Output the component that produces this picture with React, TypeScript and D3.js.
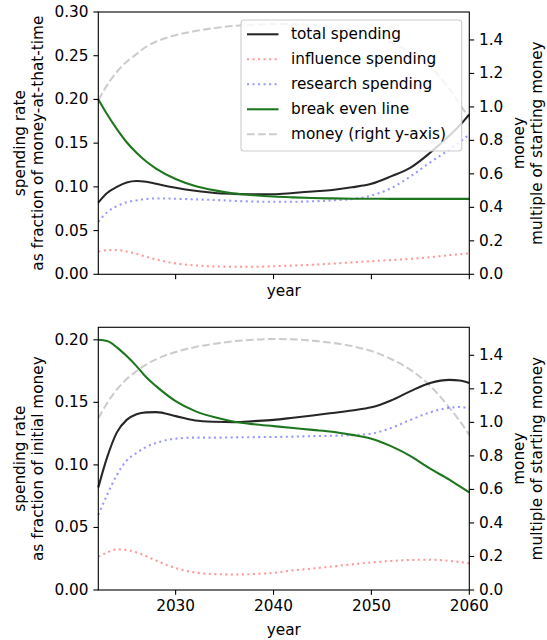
import React from 'react';
import * as d3 from 'd3';

// sample years shared by every series
const years = [2022.1, 2023, 2024, 2025, 2026, 2027, 2028, 2030, 2032, 2034, 2036, 2038, 2040, 2042, 2044, 2046, 2048, 2050, 2052, 2054, 2056, 2058, 2059, 2060];

// top panel: fraction of money-at-that-time
const topTotal = [0.082, 0.093, 0.100, 0.105, 0.1067, 0.1058, 0.1035, 0.099, 0.0955, 0.093, 0.092, 0.0915, 0.0915, 0.093, 0.0948, 0.0965, 0.0995, 0.1035, 0.112, 0.122, 0.139, 0.159, 0.170, 0.183];
const topInfluence = [0.026, 0.0275, 0.0278, 0.026, 0.0235, 0.020, 0.017, 0.0125, 0.0102, 0.009, 0.0087, 0.0087, 0.0092, 0.010, 0.011, 0.0122, 0.0136, 0.015, 0.0163, 0.0177, 0.0195, 0.022, 0.023, 0.024];
const topResearch = [0.060, 0.071, 0.078, 0.0825, 0.0845, 0.0862, 0.0868, 0.0864, 0.0857, 0.085, 0.084, 0.0832, 0.083, 0.083, 0.0835, 0.0845, 0.086, 0.090, 0.0985, 0.112, 0.128, 0.143, 0.151, 0.160];
const topBreakEven = [0.200, 0.183, 0.166, 0.151, 0.139, 0.129, 0.121, 0.109, 0.101, 0.096, 0.0925, 0.0905, 0.089, 0.088, 0.0872, 0.0868, 0.0865, 0.0864, 0.0863, 0.0863, 0.0863, 0.0863, 0.0863, 0.0863];
const topMoney = [1.04, 1.13, 1.21, 1.27, 1.315, 1.36, 1.39, 1.428, 1.453, 1.471, 1.484, 1.491, 1.495, 1.494, 1.488, 1.477, 1.458, 1.43, 1.386, 1.325, 1.24, 1.105, 1.02, 0.93];

// bottom panel: fraction of initial money
const botTotal = [0.082, 0.106, 0.126, 0.136, 0.1405, 0.142, 0.1422, 0.139, 0.1355, 0.1345, 0.1342, 0.135, 0.136, 0.1377, 0.1395, 0.1415, 0.1435, 0.146, 0.1515, 0.159, 0.1655, 0.168, 0.1675, 0.1655];
const botInfluence = [0.0265, 0.030, 0.0325, 0.032, 0.030, 0.027, 0.0235, 0.0175, 0.014, 0.0127, 0.0124, 0.0128, 0.0137, 0.0157, 0.0172, 0.0188, 0.0205, 0.022, 0.0232, 0.024, 0.0242, 0.0232, 0.0224, 0.0213];
const botResearch = [0.060, 0.076, 0.092, 0.1035, 0.1095, 0.1145, 0.1175, 0.121, 0.1218, 0.1218, 0.122, 0.1222, 0.1223, 0.1226, 0.123, 0.1233, 0.1238, 0.125, 0.1295, 0.136, 0.142, 0.1457, 0.1463, 0.145];
const botBreakEven = [0.200, 0.199, 0.194, 0.187, 0.179, 0.170, 0.163, 0.151, 0.143, 0.138, 0.1345, 0.1325, 0.131, 0.1295, 0.128, 0.1265, 0.124, 0.121, 0.115, 0.107, 0.097, 0.088, 0.083, 0.078];
const botMoney = [1.024, 1.115, 1.196, 1.258, 1.306, 1.345, 1.376, 1.42, 1.449, 1.469, 1.484, 1.493, 1.497, 1.495, 1.487, 1.474, 1.455, 1.425, 1.378, 1.313, 1.218, 1.085, 1.01, 0.925];

const legendLabels = ['total spending', 'influence spending', 'research spending', 'break even line', 'money (right y-axis)'];
const xTicks = [2030, 2040, 2050, 2060];
const topLeftTicks = [0, 0.05, 0.1, 0.15, 0.2, 0.25, 0.3];
const botLeftTicks = [0, 0.05, 0.1, 0.15, 0.2];
const rightTicks = [0, 0.2, 0.4, 0.6, 0.8, 1.0, 1.2, 1.4];

const FONT = 'DejaVu Sans, sans-serif';
const FS = 15.3;
const LW = 2.08;
const X0 = 98.3;
const X1 = 469.3;
const TICK = 4.86;

const styles = [
  { stroke: '#000', opacity: 0.85, dash: undefined },
  { stroke: 'red', opacity: 0.4, dash: '2.08 3.44' },
  { stroke: 'blue', opacity: 0.4, dash: '2.08 3.44' },
  { stroke: '#1d761d', opacity: 1, dash: undefined },
  { stroke: '#000', opacity: 0.2, dash: '7.7 3.33' },
];

interface PanelProps {
  top: number;
  bottom: number;
  leftMax: number;
  leftTicks: number[];
  series: number[][];
  money: number[];
  label2: string;
  xLabels: boolean;
  legend: boolean;
}

const Panel: React.FC<PanelProps> = ({ top, bottom, leftMax, leftTicks, series, money, label2, xLabels, legend }) => {
  const x = d3.scaleLinear().domain([years[0], 2060]).range([X0, X1]);
  const yL = d3.scaleLinear().domain([0, leftMax]).range([bottom, top]);
  const yR = d3.scaleLinear().domain([0, 1.567]).range([bottom, top]);
  const path = (vals: number[], y: d3.ScaleLinear<number, number>) =>
    d3.line<number>()
      .x((_, i) => x(years[i]))
      .y((d) => y(d))
      .curve(d3.curveMonotoneX)(vals) || '';
  const midY = (top + bottom) / 2;
  const midX = (X0 + X1) / 2;

  // legend geometry
  const lx = 241, ly = 20, lw = 220.7, lh = 131;

  return (
    <g>
      {series.map((s, i) => (
        <path key={i} d={path(s, yL)} fill="none" stroke={styles[i].stroke} strokeOpacity={styles[i].opacity}
          strokeWidth={LW} strokeDasharray={styles[i].dash} />
      ))}
      <path d={path(money, yR)} fill="none" stroke={styles[4].stroke} strokeOpacity={styles[4].opacity}
        strokeWidth={LW} strokeDasharray={styles[4].dash} />

      <rect x={X0} y={top} width={X1 - X0} height={bottom - top} fill="none" stroke="#000" strokeWidth={1.1} />

      {/* left axis */}
      {leftTicks.map((t) => (
        <g key={'l' + t}>
          <line x1={X0 - TICK} x2={X0} y1={yL(t)} y2={yL(t)} stroke="#000" strokeWidth={1.1} />
          <text x={X0 - 2 * TICK} y={yL(t)} textAnchor="end" dominantBaseline="central" fontSize={FS} fontFamily={FONT}>
            {d3.format('.2f')(t)}
          </text>
        </g>
      ))}
      {/* right axis */}
      {rightTicks.map((t) => (
        <g key={'r' + t}>
          <line x1={X1} x2={X1 + TICK} y1={yR(t)} y2={yR(t)} stroke="#000" strokeWidth={1.1} />
          <text x={X1 + 2 * TICK} y={yR(t)} textAnchor="start" dominantBaseline="central" fontSize={FS} fontFamily={FONT}>
            {d3.format('.1f')(t)}
          </text>
        </g>
      ))}
      {/* x axis */}
      {xTicks.map((t) => (
        <g key={'x' + t}>
          <line x1={x(t)} x2={x(t)} y1={bottom} y2={bottom + TICK} stroke="#000" strokeWidth={1.1} />
          {xLabels && (
            <text x={x(t)} y={bottom + 2 * TICK + 11.3} textAnchor="middle" fontSize={FS} fontFamily={FONT}>{t}</text>
          )}
        </g>
      ))}
      <text x={midX} y={xLabels ? bottom + 44.7 : bottom + 21.7} textAnchor="middle" fontSize={FS} fontFamily={FONT}>year</text>

      <g transform={`translate(19.5,${midY}) rotate(-90)`}>
        <text textAnchor="middle" dominantBaseline="central" fontSize={FS} fontFamily={FONT}>spending rate</text>
      </g>
      <g transform={`translate(38,${midY}) rotate(-90)`}>
        <text textAnchor="middle" dominantBaseline="central" fontSize={FS} fontFamily={FONT}>{label2}</text>
      </g>
      <g transform={`translate(518.5,${midY}) rotate(-90)`}>
        <text textAnchor="middle" dominantBaseline="central" fontSize={FS} fontFamily={FONT}>money</text>
      </g>
      <g transform={`translate(537,${midY}) rotate(-90)`}>
        <text textAnchor="middle" dominantBaseline="central" fontSize={FS} fontFamily={FONT}>multiple of starting money</text>
      </g>

      {legend && (
        <g>
          <rect x={lx} y={ly} width={lw} height={lh} rx={3} fill="#fff" fillOpacity={0.8} stroke="#ccc" strokeWidth={1.1} />
          {legendLabels.map((lab, i) => {
            const cy = 34.3 + 25 * i;
            return (
              <g key={lab}>
                <line x1={247} x2={278.5} y1={cy} y2={cy} stroke={styles[i].stroke} strokeOpacity={styles[i].opacity}
                  strokeWidth={LW} strokeDasharray={styles[i].dash} />
                <text x={291} y={cy} dominantBaseline="central" fontSize={FS} fontFamily={FONT}>{lab}</text>
              </g>
            );
          })}
        </g>
      )}
    </g>
  );
};

export default function App() {
  return (
    <svg width={547} height={640} style={{ position: 'absolute', left: 0, top: 0, background: '#fff' }}>
      <Panel top={12} bottom={274.3} leftMax={0.3} leftTicks={topLeftTicks}
        series={[topTotal, topInfluence, topResearch, topBreakEven]} money={topMoney}
        label2="as fraction of money-at-that-time" xLabels={false} legend={true} />
      <Panel top={327.3} bottom={590} leftMax={0.21} leftTicks={botLeftTicks}
        series={[botTotal, botInfluence, botResearch, botBreakEven]} money={botMoney}
        label2="as fraction of initial money" xLabels={true} legend={false} />
    </svg>
  );
}
